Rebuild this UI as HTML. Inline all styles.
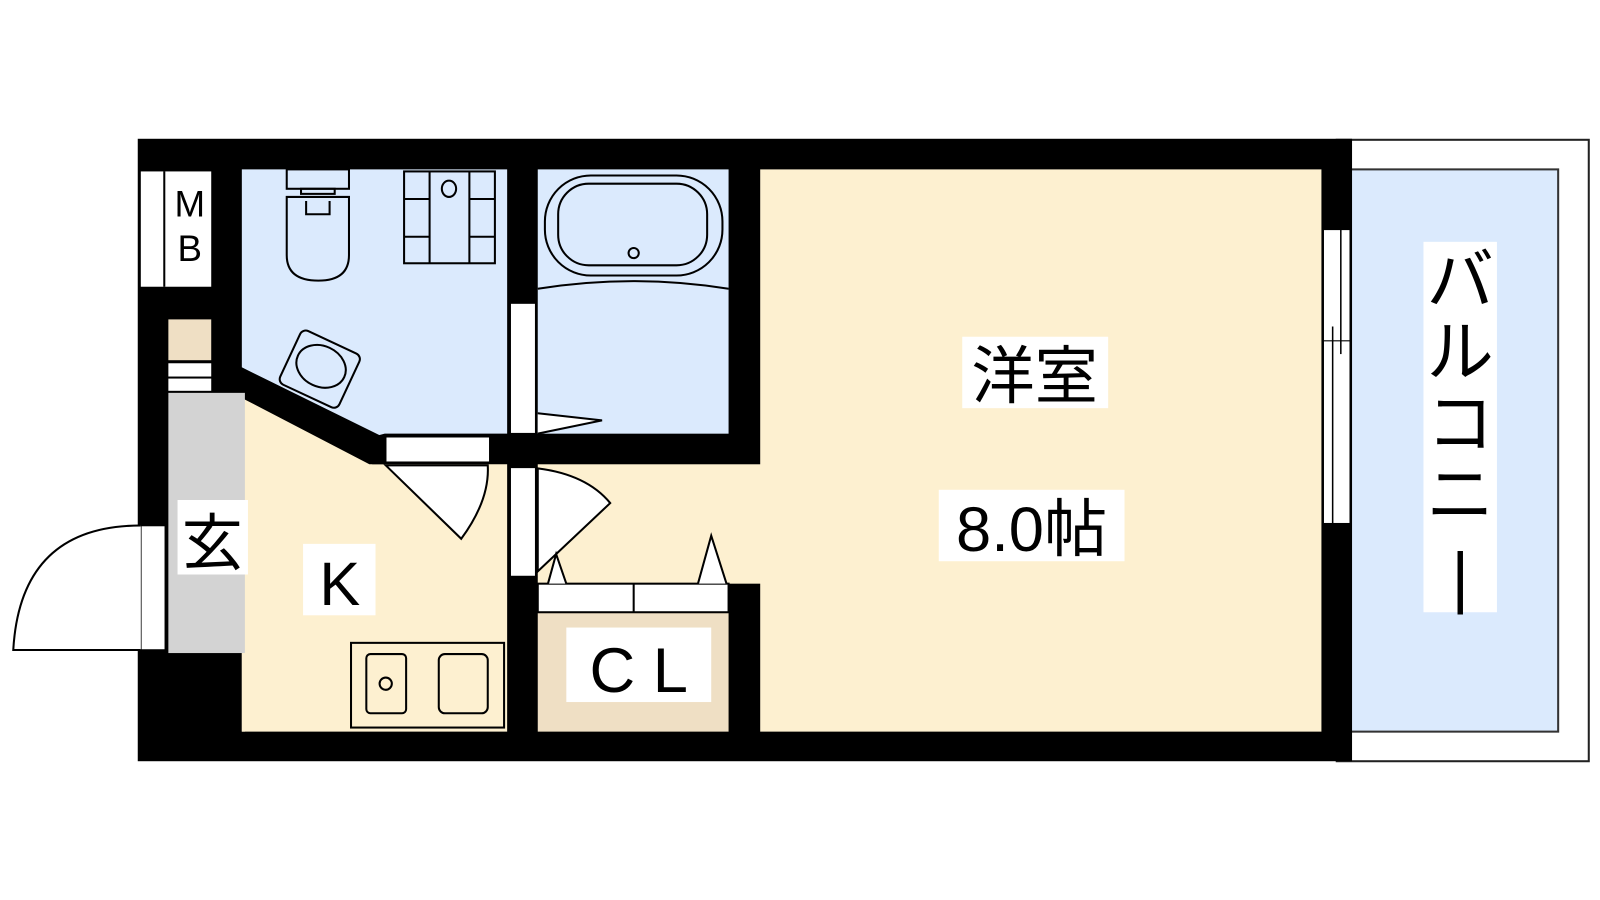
<!DOCTYPE html>
<html><head><meta charset="utf-8"><style>
body{margin:0;background:#fff}
svg{display:block}
text{font-family:"Liberation Sans","Noto Sans CJK JP",sans-serif;fill:#000}
</style></head><body>
<svg width="1600" height="900" viewBox="0 0 1568 882" xmlns="http://www.w3.org/2000/svg">
<!-- balcony -->
<rect x="1310" y="137" width="247" height="609" fill="#fff" stroke="#222" stroke-width="2"/>
<rect x="1322" y="166" width="205" height="551" fill="#dbeafd" stroke="#333" stroke-width="2"/>
<!-- outer wall -->
<rect x="135" y="136" width="1190" height="610" fill="#000"/>
<!-- western room -->
<rect x="745" y="166" width="550" height="551" fill="#fdf0d0"/>
<rect x="527" y="455" width="220" height="117" fill="#fdf0d0"/>
<!-- kitchen -->
<polygon points="237,385 365,455 497,455 497,717 237,717" fill="#fdf0d0"/>
<!-- toilet/wash blue -->
<polygon points="237,166 497,166 497,425 377,425 365,428 237,360" fill="#dbeafd"/>
<!-- diagonal wall -->
<polygon points="207,370 237,360 375,428 377,455 362,455 237,390 207,385" fill="#000"/>
<!-- bath -->
<rect x="527" y="166" width="187" height="259" fill="#dbeafd"/>
<!-- CL -->
<rect x="527" y="600" width="187" height="117" fill="#efdfc4"/>
<rect x="527" y="572" width="187" height="28" fill="#fff" stroke="#000" stroke-width="2"/>
<line x1="621" y1="572" x2="621" y2="600" stroke="#000" stroke-width="2"/>
<!-- entry -->
<rect x="165" y="385" width="75" height="255" fill="#d3d3d3"/>
<rect x="237" y="640" width="3" height="77" fill="#fdf0d0"/>
<!-- MB -->
<rect x="138" y="168" width="69" height="113" fill="#fff"/>
<line x1="161" y1="168" x2="161" y2="281" stroke="#000" stroke-width="2"/>
<text x="186" y="212" font-size="36" text-anchor="middle">M</text>
<text x="186" y="256" font-size="36" text-anchor="middle">B</text>
<rect x="165" y="313" width="42" height="40" fill="#efdfc4"/>
<rect x="165" y="356" width="42" height="13" fill="#fff"/>
<rect x="165" y="371" width="42" height="12" fill="#fff"/>
<!-- doors openings -->
<rect x="378" y="428" width="102" height="25" fill="#fff" stroke="#000" stroke-width="1.5"/>
<path d="M378 456 L452 528 Q480 490 478 456 Z" fill="#fff" stroke="#000" stroke-width="2"/>
<rect x="500" y="297" width="25" height="128" fill="#fff" stroke="#000" stroke-width="1.5"/>
<path d="M527 405 L590 412 L527 425" fill="#fff" stroke="#000" stroke-width="2"/>
<rect x="500" y="458" width="25" height="107" fill="#fff" stroke="#000" stroke-width="1.5"/>
<path d="M527 459 Q575 465 598 493 L527 560 Z" fill="#fff" stroke="#000" stroke-width="2"/>
<path d="M537 572 L545 543 L555 572" fill="#fff" stroke="#000" stroke-width="2"/>
<path d="M684 572 L697 525 L712 572" fill="#fff" stroke="#000" stroke-width="2"/>
<!-- entry door -->
<rect x="138" y="515" width="24" height="122" fill="#fff" stroke="#000" stroke-width="1.5"/>
<path d="M138 515 Q20 515 13 637 L138 637" fill="#fff" stroke="#000" stroke-width="2"/>
<!-- window -->
<rect x="1297" y="225" width="26" height="288" fill="#fff" stroke="#000" stroke-width="1"/>
<line x1="1314" y1="225" x2="1314" y2="347" stroke="#000" stroke-width="1.5"/>
<line x1="1306" y1="320" x2="1306" y2="513" stroke="#000" stroke-width="1.5"/>
<line x1="1297" y1="334" x2="1323" y2="334" stroke="#000" stroke-width="1"/>
<g fill="none" stroke="#000" stroke-width="2">
<rect x="281" y="166" width="61" height="19"/>
<rect x="295" y="185" width="33" height="5"/>
<path d="M281 193 H342 V250 Q342 275 312 275 Q281 275 281 250 Z"/>
<path d="M300 197 V210 H323 V197"/>
<rect x="396" y="168" width="89" height="90"/>
<line x1="421" y1="168" x2="421" y2="258"/><line x1="460" y1="168" x2="460" y2="258"/>
<line x1="396" y1="195" x2="421" y2="195"/><line x1="460" y1="195" x2="485" y2="195"/>
<line x1="396" y1="232" x2="421" y2="232"/><line x1="460" y1="232" x2="485" y2="232"/>
<ellipse cx="440" cy="185" rx="7" ry="8"/>
<g transform="rotate(25 312 360)"><rect x="282" y="332" width="64" height="58" rx="6"/><ellipse cx="314" cy="358" rx="25" ry="20"/></g>
<rect x="534" y="172" width="174" height="98" rx="45"/>
<rect x="547" y="180" width="146" height="80" rx="30"/>
<circle cx="621" cy="248" r="5"/>
<path d="M527 283 Q621 268 714 283"/>
<rect x="344" y="630" width="150" height="83"/>
<rect x="359" y="641" width="39" height="58" rx="4"/>
<rect x="430" y="641" width="48" height="58" rx="6"/>
<circle cx="378" cy="670" r="6"/>
</g>
<rect x="943" y="330" width="143" height="70" fill="#fff"/>
<text x="1014" y="390" font-size="62" text-anchor="middle">洋室</text>
<rect x="920" y="480" width="182" height="70" fill="#fff"/>
<text x="1011" y="540" font-size="62" text-anchor="middle">8.0帖</text>
<rect x="297" y="533" width="71" height="70" fill="#fff"/>
<text x="333" y="593" font-size="60" text-anchor="middle">K</text>
<rect x="174" y="490" width="69" height="73" fill="#fff"/>
<text x="208" y="553" font-size="60" text-anchor="middle">玄</text>
<rect x="555" y="615" width="142" height="73" fill="#fff"/>
<text x="626" y="678" font-size="62" text-anchor="middle">C L</text>
<rect x="1395" y="237" width="72" height="363" fill="#fff"/>
<text font-size="66" text-anchor="middle"><tspan x="1431" y="298">バ</tspan><tspan x="1431" y="368">ル</tspan><tspan x="1431" y="438">コ</tspan><tspan x="1431" y="508">ニ</tspan><tspan x="1431" y="588">|</tspan></text>
</svg>
</body></html>
